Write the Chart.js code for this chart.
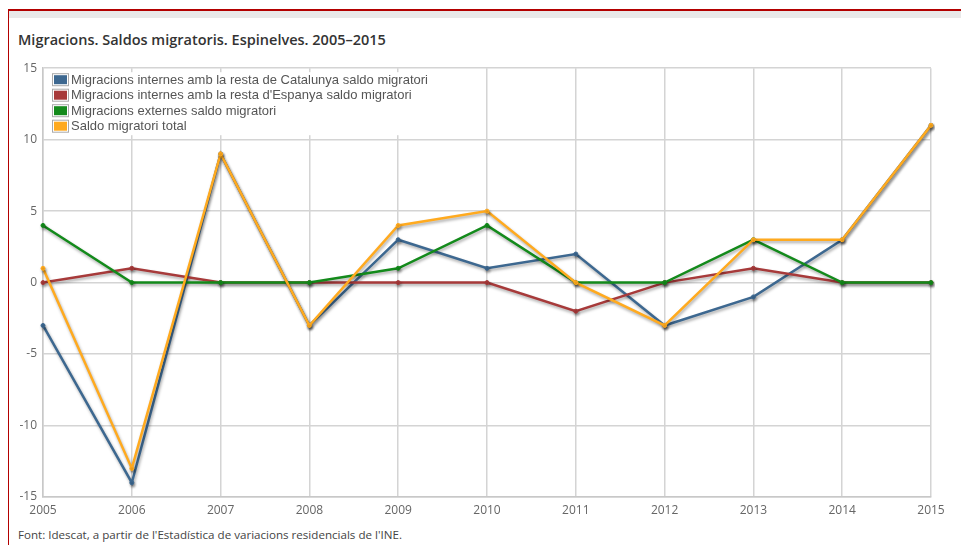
<!DOCTYPE html>
<html>
<head>
<meta charset="utf-8">
<script src="https://cdn.jsdelivr.net/npm/chart.js@4/dist/chart.umd.min.js"></script>
<style>
  body { margin: 0; background: #fff; width: 961px; height: 545px; overflow: hidden; position: relative; font-family: "Open Sans", sans-serif; }
  .frameTop { position: absolute; left: 8px; top: 9px; right: 0; height: 2px; background: #b30000; }
  .strip { position: absolute; left: 9px; top: 11px; right: 0; height: 7px; background: #e9e9e9; }
  .frameLeft { position: absolute; left: 8px; top: 9px; width: 1px; bottom: 0; background: #b30000; }
  h1 { position: absolute; left: 18px; top: 30px; margin: 0; font-size: 14.5px; font-weight: 600; color: #333; }
  .src { position: absolute; left: 18px; top: 527px; font-size: 11.6px; color: #444; }
  #wrap { position: absolute; left: 0; top: 55px; width: 961px; height: 465px; }
</style>
</head>
<body>
<div class="frameTop"></div>
<div class="strip"></div>
<div class="frameLeft"></div>
<h1>Migracions. Saldos migratoris. Espinelves. 2005–2015</h1>
<div id="wrap"><canvas id="chart" width="961" height="465"></canvas></div>
<div class="src">Font: Idescat, a partir de l'Estadística de variacions residencials de l'INE.</div>
<script>
// --- data ---
const years = ['2005', '2006', '2007', '2008', '2009', '2010', '2011', '2012', '2013', '2014', '2015'];
const catalunya = [-3, -14, 9, -3, 3, 1, 2, -3, -1, 3, 11];
const espanya = [0, 1, 0, 0, 0, 0, -2, 0, 1, 0, 0];
const externes = [4, 0, 0, 0, 1, 4, 0, 0, 3, 0, 0];
const total = [1, -13, 9, -3, 4, 5, 0, -3, 3, 3, 11];
const seriesNames = [
    'Migracions internes amb la resta de Catalunya saldo migratori',
    "Migracions internes amb la resta d'Espanya saldo migratori",
    'Migracions externes saldo migratori',
    'Saldo migratori total'
];
const seriesColors = ['#3d6890', '#a73a3a', '#138a1b', '#ffaa1f'];
const yTicks = { min: -15, max: 15, step: 5 };

const mkSet = (i, data, order) => ({
    label: seriesNames[i], data: data, order: order,
    borderColor: seriesColors[i], backgroundColor: seriesColors[i],
    borderWidth: 2.5, pointRadius: 2, pointBorderWidth: 1, pointHoverRadius: 3, tension: 0, fill: false
});

// soft drop shadow under the lines
const shadowPlugin = {
    id: 'shadow',
    beforeDatasetDraw(chart) {
        const c = chart.ctx; c.save();
        c.shadowColor = 'rgba(0,0,0,0.35)'; c.shadowBlur = 3; c.shadowOffsetX = 1; c.shadowOffsetY = 2;
    },
    afterDatasetDraw(chart) { chart.ctx.restore(); }
};

// legend drawn inside the plot, top-left
const boxLegend = {
    id: 'boxLegend',
    afterDraw(chart) {
        const c = chart.ctx;
        const x0 = chart.chartArea.left + 9, y0 = chart.chartArea.top + 5;
        c.save();
        c.fillStyle = '#fff';
        c.fillRect(x0 - 2, y0 - 1, 392, 63);
        c.font = '13px "Liberation Sans", Arial, sans-serif';
        c.textBaseline = 'middle';
        seriesNames.forEach((name, i) => {
            const y = y0 + i * 15.5;
            c.strokeStyle = '#aaa'; c.lineWidth = 1;
            c.strokeRect(x0 + 0.5, y + 0.5, 16, 12);
            c.fillStyle = seriesColors[i];
            c.fillRect(x0 + 2, y + 2, 13, 9);
            c.fillStyle = '#555';
            c.fillText(name, x0 + 19, y + 7);
        });
        c.restore();
    }
};

new Chart(document.getElementById('chart'), {
    type: 'line',
    data: {
        labels: years,
        datasets: [mkSet(0, catalunya, 4), mkSet(1, espanya, 3), mkSet(2, externes, 2), mkSet(3, total, 1)]
    },
    options: {
        responsive: false, animation: false,
        layout: { padding: { top: 11, right: 30, left: 0, bottom: 0 } },
        plugins: { legend: { display: false }, tooltip: { enabled: false } },
        scales: {
            x: {
                grid: { color: '#d4d4d4', lineWidth: 1.5, drawTicks: false },
                border: { color: '#c8c8c8', width: 1.5 },
                ticks: { color: '#666', font: { family: 'Open Sans', size: 12 }, padding: 6, maxRotation: 0 },
                afterFit: s => { s.height = 23; }
            },
            y: {
                min: yTicks.min, max: yTicks.max,
                grid: { color: '#d4d4d4', lineWidth: 1.5, drawTicks: false },
                border: { color: '#c8c8c8', width: 1.5 },
                ticks: { stepSize: yTicks.step, color: '#666', font: { family: 'Open Sans', size: 12 }, padding: 6 },
                afterFit: s => { s.width = 43; }
            }
        }
    },
    plugins: [shadowPlugin, boxLegend]
});
</script>
</body>
</html>
